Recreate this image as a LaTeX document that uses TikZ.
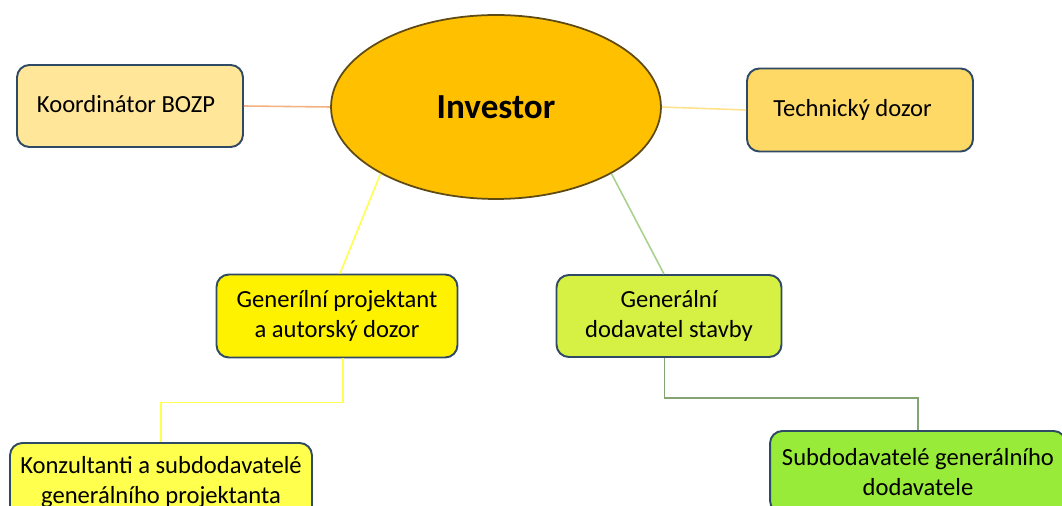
\documentclass[tikz,border=0pt]{standalone}
\usepackage{fontspec}
\setmainfont{Carlito}
\usetikzlibrary{shapes.geometric}
\definecolor{rimblue}{HTML}{2F4A64}
\definecolor{invfill}{HTML}{FFC000}
\definecolor{invrim}{HTML}{5E4A14}
\begin{document}
\begin{tikzpicture}[x=0.02cm,y=0.02cm,
  every node/.style={inner sep=0pt,font=\fontsize{14}{16.8}\selectfont,align=center},
  box/.style={draw=rimblue,line width=1.1pt,rounded corners=7pt},
  link/.style={line width=0.9pt}]
\useasboundingbox (0,0) rectangle (1062,-506);
\clip (0,0) rectangle (1062,-506);
% centre
\node [ellipse,draw=invrim,line width=1pt,fill=invfill,minimum width=6.6cm,minimum height=3.68cm,
  font=\fontsize{20}{24}\selectfont\bfseries] (inv) at (496,-107) {Investor};
% top row
\node [box,fill={rgb,255:red,255;green,230;blue,153},minimum width=4.52cm,minimum height=1.64cm,text depth=0.25cm,text height=0.5cm] (bozp) at (130,-106) {Koordinátor BOZP\hspace{0.16cm}};
\node [box,fill={rgb,255:red,255;green,217;blue,102},minimum width=4.52cm,minimum height=1.66cm] (tech) at (860,-110) {Technický dozor\hspace{0.3cm}};
% middle row
\node [box,fill=yellow,minimum width=4.82cm,minimum height=1.66cm] (proj) at (337,-316) {Generílní projektant\\a autorský dozor};
\node [box,fill={rgb,255:red,215;green,240;blue,68},minimum width=4.5cm,minimum height=1.64cm] (dod) at (669,-316) {Generální\\dodavatel stavby};
% bottom row
\node [box,fill={rgb,255:red,255;green,255;blue,77},minimum width=6.04cm,minimum height=1.56cm] (konz) at (161,-482) {Konzultanti a subdodavatelé\\generálního projektanta};
\node [box,fill={rgb,255:red,153;green,235;blue,58},minimum width=5.92cm,minimum height=1.64cm] (subd) at (918,-472) {Subdodavatelé generálního\\dodavatele};
% connectors
\draw [link,color={rgb,255:red,244;green,177;blue,131}] (bozp.east) -- (inv.west);
\draw [link,color={rgb,255:red,255;green,226;blue,140}] (inv.east) -- (tech.west);
\draw [link,color={rgb,255:red,255;green,255;blue,80}] (inv.210) -- ([xshift=0.06cm]proj.north);
\draw [link,color={rgb,255:red,169;green,209;blue,142}] (inv.330) -- ([xshift=-0.1cm]dod.north);
\draw [link,color={rgb,255:red,255;green,255;blue,80}] ([xshift=0.12cm]proj.south) -- ++(0,-44) -| (konz.north);
\draw [link,color={rgb,255:red,130;green,165;blue,115}] ([xshift=-0.09cm]dod.south) -- ++(0,-40) -| (subd.north);
\end{tikzpicture}
\end{document}
